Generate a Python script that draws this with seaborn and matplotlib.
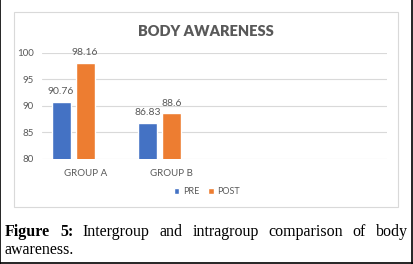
import matplotlib
matplotlib.use('Agg')
import matplotlib.pyplot as plt
import seaborn as sns
import pandas as pd
from matplotlib.lines import Line2D
from matplotlib.patches import Rectangle

# data
groups = ['GROUP A', 'GROUP A', 'GROUP B', 'GROUP B']
phases = ['PRE', 'POST', 'PRE', 'POST']
scores = [90.76, 98.16, 86.83, 88.6]
cat_order = ['GROUP A', 'GROUP B', ' ', '  ']
hue_order = ['PRE', 'POST', 'EMPTY']
yticks = [80, 85, 90, 95, 100]

df = pd.DataFrame({'Group': groups, 'Phase': phases, 'Score': scores})

sns.set_theme(style='white')
plt.rcParams['font.family'] = ['Lato', 'DejaVu Sans']

W, H = 414, 264
fig = plt.figure(figsize=(W / 100, H / 100), dpi=100)

# light chart frame (behind the axes)
fig.add_artist(Rectangle((14 / W, 1 - 207 / H), (398 - 14) / W, (207 - 12) / H,
                         transform=fig.transFigure, fc='white', ec='#d9d9d9', lw=0.8,
                         zorder=-1))

ax = fig.add_axes([42 / W, 1 - 159 / H, (387 - 42) / W, (159 - 53) / H])
ax.patch.set_alpha(0)
pal = {'PRE': '#4472C4', 'POST': '#ED7D31', 'EMPTY': '#A5A5A5'}
sns.barplot(data=df, x='Group', y='Score', hue='Phase', order=cat_order,
            hue_order=hue_order, palette=pal, width=0.837, gap=0.21,
            ax=ax, legend=False, saturation=1, errorbar=None)

ax.set_ylim(80, 100)
ax.set_yticks(yticks)
ax.yaxis.grid(True, color='#d9d9d9', lw=0.8)
ax.set_axisbelow(True)
for s in ax.spines.values():
    s.set_visible(False)
ax.set_xlabel('')
ax.set_ylabel('')
ax.tick_params(axis='both', length=0, labelsize=7, labelcolor='#595959')
ax.tick_params(axis='y', pad=6)
ax.tick_params(axis='x', pad=7)

for c in ax.containers:
    ax.bar_label(c, fmt='%g', padding=4, fontsize=7.5, color='#595959')

fig.text(206 / W, 1 - 31 / H, 'BODY AWARENESS', ha='center', va='center',
         fontsize=10.5, fontweight='heavy', color='#595959')

handles = [Rectangle((0, 0), 1, 1, fc=pal['PRE']), Rectangle((0, 0), 1, 1, fc=pal['POST'])]
fig.legend(handles, ['PRE', 'POST'], loc='center', bbox_to_anchor=(207 / W, 1 - 192 / H),
           ncol=2, frameon=False, fontsize=6.5, labelcolor='#595959',
           handlelength=0.6, handleheight=0.6, handletextpad=0.4, columnspacing=1.0)

# caption, justified first line
cap_font = ['Liberation Serif', 'DejaVu Serif']
words = [('Figure', 'bold'), ('5:', 'bold'), ('Intergroup', 'normal'), ('and', 'normal'),
         ('intragroup', 'normal'), ('comparison', 'normal'), ('of', 'normal'), ('body', 'normal')]
texts = [fig.text(0, 1 - 236 / H, w, fontsize=11.5, fontweight=fw, family=cap_font,
                  va='baseline', color='black') for w, fw in words]
fig.canvas.draw()
r = fig.canvas.get_renderer()
widths = [t.get_window_extent(r).width for t in texts]
x0, x1 = 5, 408
gap = (x1 - x0 - sum(widths)) / (len(words) - 1)
x = x0
for t, w in zip(texts, widths):
    t.set_x(x / W)
    x += w + gap
fig.text(5 / W, 1 - 254 / H, 'awareness.', fontsize=11.5, family=cap_font,
         va='baseline', color='black')

# black border of the image
for xs, ys in [([0.5, 0.5], [0, H]), ([412.5, 412.5], [0, H]), ([0, 413], [262.5, 262.5])]:
    fig.add_artist(Line2D([v / W for v in xs], [1 - v / H for v in ys],
                          transform=fig.transFigure, color='black', lw=1.2))

fig.savefig('out.png', dpi=100)
